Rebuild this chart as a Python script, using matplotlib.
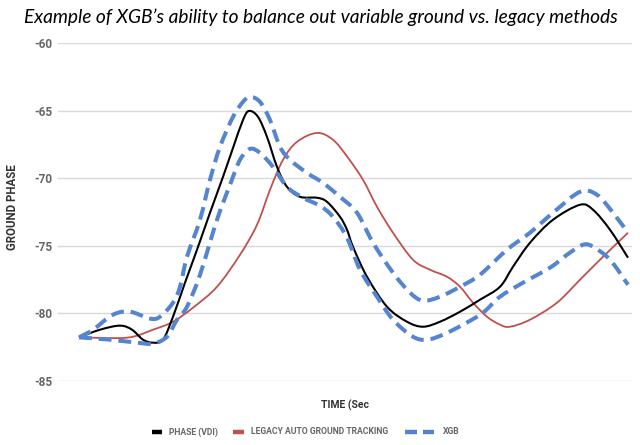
import matplotlib
matplotlib.use("Agg")
import matplotlib.pyplot as plt
from matplotlib.path import Path
from matplotlib.patches import PathPatch
from matplotlib.lines import Line2D

# time axis in arbitrary units, value = ground phase
phase_t = [0, 2.1, 4.1, 5.3, 6.4, 7.4, 8.4, 9.4, 10.6, 11.8, 13.1, 14.4, 15.4, 16.4, 17.0,
           17.9, 18.8, 19.8, 20.8, 22.1, 23.8, 24.8, 26.1, 26.8, 27.4, 28.8, 30.8, 32.8,
           34.4, 36.1, 38.1, 40.1, 42.1, 43.4, 45.1, 47.4, 50.1, 51.4, 53.1, 54.9]
phase_v = [-81.8, -81.23, -80.93, -81.23, -81.97, -82.19, -81.97, -80.27, -77.75, -75.31,
           -72.57, -69.91, -67.77, -65.7, -65.03, -65.47, -66.95, -69.17, -70.65, -71.39,
           -71.46, -71.76, -72.87, -73.83, -75.09, -77.31, -79.53, -80.64, -81.01, -80.64,
           -79.9, -79.01, -78.05, -76.57, -74.79, -73.09, -71.98, -72.35, -73.83, -75.9]

legacy_t = [0, 4.8, 7.4, 9.4, 11.4, 13.8, 16.1, 17.8, 19.1, 20.4, 21.8, 23.8, 25.4, 26.8,
            28.4, 29.8, 31.4, 33.4, 35.1, 36.8, 38.1, 39.4, 40.8, 42.1, 43.1, 45.1, 47.8,
            50.1, 52.4, 54.9]
legacy_v = [-81.8, -81.82, -81.23, -80.64, -79.6, -78.05, -75.68, -73.46, -70.87, -68.65,
            -67.32, -66.66, -67.17, -68.4, -70.13, -72.13, -74.05, -76.05, -76.79, -77.31,
            -78.05, -79.23, -80.27, -80.86, -81.01, -80.49, -79.23, -77.53, -75.83, -74.05]

xgb_hi_t = [0, 1.4, 3.4, 5.1, 7.1, 8.1, 9.4, 10.1, 10.8, 12.1, 13.1, 14.1, 15.4, 16.4,
            17.1, 18.1, 19.1, 20.1, 21.1, 22.8, 24.4, 26.1, 27.8, 29.4, 31.4, 33.1, 34.4,
            36.1, 38.1, 40.1, 42.8, 45.1, 47.4, 50.1, 51.8, 53.4, 54.9]
xgb_hi_v = [-81.8, -81.23, -80.12, -79.9, -80.41, -80.27, -79.23, -78.05, -75.83, -73.09,
            -70.13, -67.69, -65.47, -64.36, -63.99, -64.36, -65.7, -67.69, -68.65, -69.62,
            -70.36, -71.39, -72.57, -74.79, -77.01, -78.49, -79.08, -78.79, -78.05, -77.16,
            -75.31, -74.05, -72.57, -71.02, -71.24, -72.57, -74.05]

xgb_lo_t = [0, 3.1, 5.8, 7.4, 8.8, 9.8, 10.8, 12.1, 13.8, 15.1, 16.1, 17.1, 18.1, 19.4,
            20.8, 22.4, 24.1, 25.4, 26.8, 28.1, 29.8, 31.4, 33.4, 34.8, 36.4, 38.4, 40.4,
            42.1, 44.4, 47.1, 48.8, 50.4, 51.4, 53.1, 54.9]
xgb_lo_v = [-81.8, -81.97, -82.19, -82.26, -81.75, -80.49, -79.53, -77.16, -73.09, -70.5,
            -68.65, -67.84, -68.14, -69.17, -70.65, -71.46, -72.06, -72.87, -74.42, -76.79,
            -78.79, -80.49, -81.75, -81.97, -81.6, -80.86, -79.97, -78.79, -77.75, -76.64,
            -75.68, -74.94, -75.09, -76.05, -77.9]

y_ticks = [-85, -80, -75, -70, -65, -60]
series_labels = ["PHASE (VDI)", "LEGACY AUTO GROUND TRACKING", "XGB"]


def smooth_path(t, v):
    """Catmull-Rom curve through the data points, as cubic Bezier segments."""
    pts = list(zip(t, v))
    n = len(pts)
    verts = [pts[0]]
    codes = [Path.MOVETO]
    for i in range(n - 1):
        p0 = pts[i - 1] if i > 0 else pts[i]
        p1 = pts[i]
        p2 = pts[i + 1]
        p3 = pts[i + 2] if i + 2 < n else pts[i + 1]
        c1 = (p1[0] + (p2[0] - p0[0]) / 6, p1[1] + (p2[1] - p0[1]) / 6)
        c2 = (p2[0] - (p3[0] - p1[0]) / 6, p2[1] - (p3[1] - p1[1]) / 6)
        verts += [c1, c2, p2]
        codes += [Path.CURVE4] * 3
    return Path(verts, codes)


fig = plt.figure(figsize=(6.4, 4.45), dpi=100)
ax = fig.add_axes([58 / 640, 1 - 380.6 / 445, (632 - 58) / 640, (380.6 - 43) / 445])

blue = "#5585d0"
red = "#c0504d"
ax.add_patch(PathPatch(smooth_path(legacy_t, legacy_v), fill=False, edgecolor=red,
                       lw=1.3, zorder=2, label=series_labels[1]))
ax.add_patch(PathPatch(smooth_path(phase_t, phase_v), fill=False, edgecolor="black",
                       lw=1.5, zorder=3, label=series_labels[0]))
for tt, vv, lab in [(xgb_hi_t, xgb_hi_v, series_labels[2]), (xgb_lo_t, xgb_lo_v, None)]:
    ax.add_patch(PathPatch(smooth_path(tt, vv), fill=False, edgecolor=blue, lw=2.9,
                           linestyle=(0, (3.2, 1.7)), capstyle="butt", zorder=4,
                           label=lab))

ax.set_ylim(-85, -60)
ax.set_xlim(-2.1, 55.3)
ax.set_yticks(y_ticks)
ax.set_yticklabels([str(v) for v in y_ticks])
ax.set_xticks([])
ax.grid(axis="y", color="#d9d9d9", lw=1)
ax.set_axisbelow(True)
for s in ax.spines.values():
    s.set_visible(False)
ax.tick_params(axis="y", length=0, pad=4, labelsize=8.5, labelcolor="#666666")
for lab in ax.get_yticklabels():
    lab.set_fontfamily("Roboto")
    lab.set_fontweight("bold")

fig.text(13 / 640, 1 - 207 / 445, "GROUND PHASE", rotation=90, ha="center", va="center",
         fontsize=8.3, fontweight="bold", color="#333333", family="Roboto")
fig.text(345 / 640, 1 - 405 / 445, "TIME (Sec", ha="center", va="center",
         fontsize=7.5, fontweight="bold", color="#333333", family="Roboto")
fig.text(321 / 640, 1 - 17 / 445,
         "Example of XGB\u2019s ability to balance out variable ground vs. legacy methods",
         ha="center", va="center", fontsize=13.8, style="italic", family="Lato", color="black")

# legend (Google-Sheets style short handles)
ly = 1 - 432 / 445
handles = [
    ("black", [(152, 162)], series_labels[0], 169),
    (red, [(233, 244)], series_labels[1], 251),
    (blue, [(405, 417), (423, 434)], series_labels[2], 443),
]
for color, segs, text, tx in handles:
    for x0, x1 in segs:
        fig.add_artist(Line2D([x0 / 640, x1 / 640], [ly, ly], color=color, lw=3.2,
                              solid_capstyle="butt", transform=fig.transFigure))
    fig.text(tx / 640, ly, text, ha="left", va="center", fontsize=6.2, fontweight="bold",
             color="#666666", family="Roboto")

fig.savefig("out.png", dpi=100)
